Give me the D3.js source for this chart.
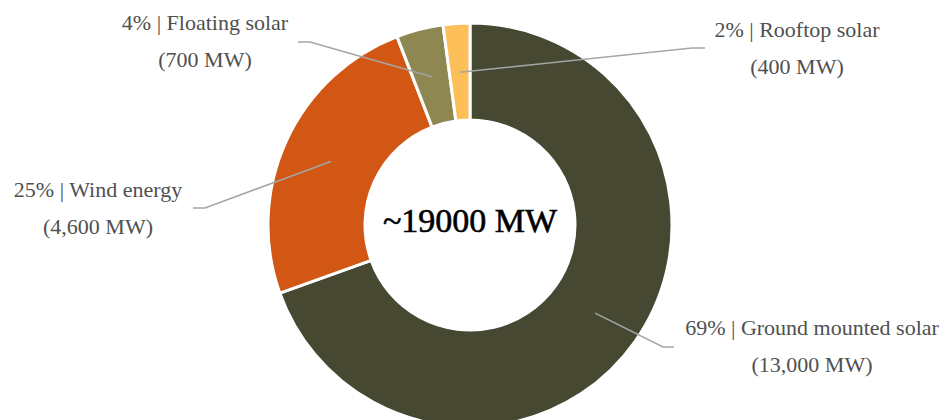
<!DOCTYPE html>
<html>
<head>
<meta charset="utf-8">
<script src="https://cdn.jsdelivr.net/npm/d3@7/dist/d3.min.js"></script>
<style>
  html, body { margin: 0; padding: 0; background: #fff; }
  svg { display: block; }
</style>
</head>
<body>
<svg id="chart" width="945" height="420"></svg>
<script>
// Installed capacity by technology
const categories = ["Ground mounted solar", "Wind energy", "Floating solar", "Rooftop solar"];
const capacityMW = [13000, 4600, 700, 400];
const shareLabels = ["69%", "25%", "4%", "2%"];
const mwLabels = ["(13,000 MW)", "(4,600 MW)", "(700 MW)", "(400 MW)"];
const totalLabel = "~19000 MW";

const colors = ["#474832", "#D25614", "#8E8752", "#FDBF58"];
const serif = "'Liberation Serif', 'Times New Roman', 'DejaVu Serif', serif";

// Callout geometry: elbow point, end of the horizontal tick, label anchor
const callouts = [
  { elbow: [663, 347], end: [674, 347], text: [812, 335] },
  { elbow: [205, 208], end: [193, 208], text: [98, 197] },
  { elbow: [310, 42],  end: [298, 42],  text: [205, 30] },
  { elbow: [692, 48],  end: [705, 48],  text: [797, 37] }
];

const svg = d3.select("#chart");
const cx = 470, cy = 225, outerR = 202, innerR = 105;

const data = categories.map((c, i) => ({ name: c, value: capacityMW[i], i }));

const pie = d3.pie().value(d => d.value).sort(null);
const arcs = pie(data);
const arc = d3.arc().innerRadius(innerR).outerRadius(outerR);
const midArc = d3.arc().innerRadius(153).outerRadius(153);

const g = svg.append("g").attr("transform", `translate(${cx},${cy})`);

g.selectAll("path.slice")
  .data(arcs)
  .join("path")
  .attr("class", "slice")
  .attr("d", arc)
  .attr("fill", d => colors[d.data.i])
  .attr("stroke", "#ffffff")
  .attr("stroke-width", 3)
  .attr("stroke-linejoin", "miter");

// Leader lines
svg.selectAll("polyline.leader")
  .data(arcs)
  .join("polyline")
  .attr("class", "leader")
  .attr("fill", "none")
  .attr("stroke", "#A5A5A5")
  .attr("stroke-width", 1.5)
  .attr("points", d => {
    const c = midArc.centroid(d);
    const co = callouts[d.data.i];
    return [[c[0] + cx, c[1] + cy], co.elbow, co.end].map(p => p.join(",")).join(" ");
  });

// Labels
const labels = svg.selectAll("g.label")
  .data(arcs)
  .join("g")
  .attr("class", "label")
  .attr("transform", d => `translate(${callouts[d.data.i].text[0]},${callouts[d.data.i].text[1]})`);

labels.append("text")
  .attr("text-anchor", "middle")
  .style("font-family", serif)
  .style("font-size", "22px")
  .attr("fill", "#505050")
  .text(d => `${shareLabels[d.data.i]} | ${d.data.name}`);

labels.append("text")
  .attr("text-anchor", "middle")
  .attr("y", 37)
  .style("font-family", serif)
  .style("font-size", "22px")
  .attr("fill", "#505050")
  .text(d => mwLabels[d.data.i]);

// Total in the hole
g.append("text")
  .attr("text-anchor", "middle")
  .attr("y", 7)
  .style("font-family", serif)
  .style("font-size", "34px")
  .attr("fill", "#000")
  .attr("stroke", "#000")
  .attr("stroke-width", 0.6)
  .text(totalLabel);
</script>
</body>
</html>
